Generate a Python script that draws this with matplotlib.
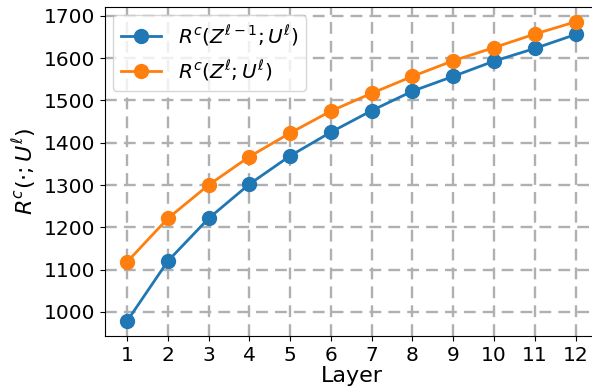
import numpy as np
import matplotlib.pyplot as plt

layers = np.arange(1, 13)
r_prev = [978, 1120, 1221, 1302, 1369, 1425, 1476, 1522, 1557, 1593, 1623, 1656]
r_curr = [1118, 1221, 1300, 1367, 1423, 1475, 1517, 1557, 1594, 1625, 1657, 1686]

plt.rcParams['font.size'] = 15

fig = plt.figure(figsize=(5.92, 3.92), dpi=100)
ax = fig.add_axes([105/592, 56/392, 493/592, 329/392])

ax.plot(layers, r_prev, '-o', color='#1f77b4', lw=2, markersize=10,
        label=r'$R^c(Z^{\ell-1};U^\ell)$')
ax.plot(layers, r_curr, '-o', color='#ff7f0e', lw=2, markersize=10,
        label=r'$R^c(Z^{\ell};U^\ell)$')

ax.set_xticks(layers)
ax.set_xlim(0.46, 12.55)
ax.set_ylim(943, 1721)
ax.set_yticks(np.arange(1000, 1701, 100))
ax.tick_params(labelsize=14.5)
ax.grid(True, linestyle='--', color='#b0b0b0', lw=1.7, dashes=(5, 3))
ax.set_xlabel('Layer', fontsize=16, labelpad=1)
ax.set_ylabel(r'$R^c(\cdot;U^\ell)$', fontsize=16, labelpad=4)
ax.legend(loc='upper left', fontsize=14.5, borderaxespad=0.4)

fig.savefig('out.png', dpi=100)
